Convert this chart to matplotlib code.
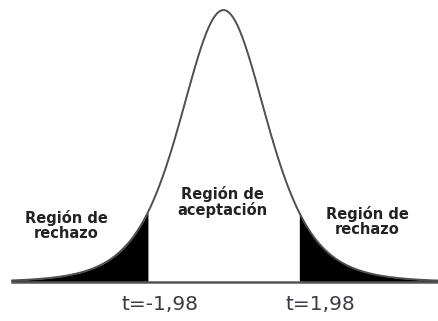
import numpy as np
import matplotlib
matplotlib.use("Agg")
import matplotlib.pyplot as plt

# Distribution shape and critical values
df = 5
scale = 1.17
t_crit = 1.98
x_range = (-5.55, 5.65)

region_labels = ["Región de\nrechazo", "Región de\naceptación", "Región de\nrechazo"]
crit_labels = ["t=-1,98", "t=1,98"]

W, H = 439, 321
fig = plt.figure(figsize=(W / 100, H / 100), dpi=100)
ax = fig.add_axes([0, 0, 1, 1])
ax.set_xlim(-5.86, 5.65)
ax.set_ylim(-0.143, 1.037)
ax.axis("off")

x = np.linspace(x_range[0], x_range[1], 1200)
z = x / scale
y = (1 + z ** 2 / df) ** (-(df + 1) / 2)

# rejection tails
left = x <= -t_crit
right = x >= t_crit
ax.fill_between(x[left], 0, y[left], color="black", lw=0)
ax.fill_between(x[right], 0, y[right], color="black", lw=0)

ax.plot(x, y, color="#4f4f4f", lw=1.4, solid_capstyle="round")
ax.plot([x_range[0], 5.65], [0, 0], color="#555555", lw=1.8)

bold = dict(fontsize=10.5, fontweight="bold", color="#222222", ha="center",
            va="center", linespacing=1.0, family="DejaVu Sans",
            transform=ax.transAxes)
ax.text(66 / W, 1 - 225 / H, region_labels[0], **bold)
ax.text(222 / W, 1 - 202 / H, region_labels[1], **bold)
ax.text(367 / W, 1 - 222 / H, region_labels[2], **bold)

reg = dict(fontsize=14.5, color="#3a3a42", ha="center", va="baseline",
           family="DejaVu Sans", transform=ax.transAxes)
ax.text(160 / W, 1 - 310 / H, crit_labels[0], **reg)
ax.text(320 / W, 1 - 310 / H, crit_labels[1], **reg)

fig.savefig("out.png", dpi=100, facecolor="white")
